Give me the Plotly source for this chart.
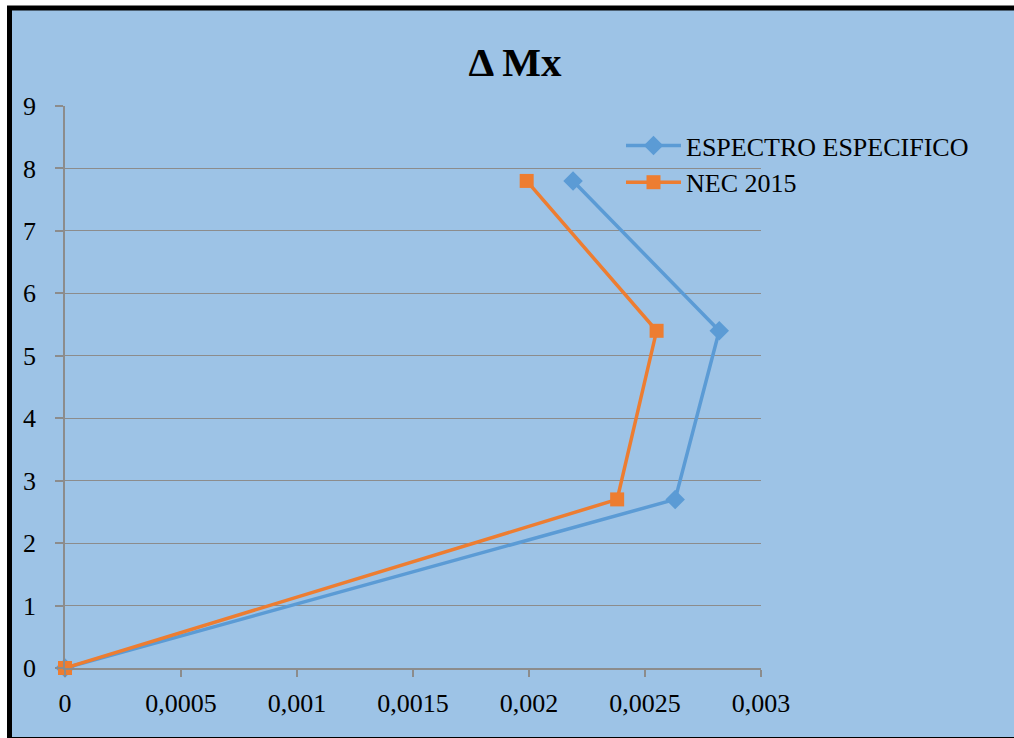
import plotly.graph_objects as go

# Data
heights = [0, 2.7, 5.4, 7.8]
espectro_especifico = [0, 0.00263, 0.00282, 0.00219]
nec_2015 = [0, 0.00238, 0.00255, 0.00199]
x_ticks = [0, 0.0005, 0.001, 0.0015, 0.002, 0.0025, 0.003]
x_tick_labels = ["0", "0,0005", "0,001", "0,0015", "0,002", "0,0025", "0,003"]
y_ticks = [0, 1, 2, 3, 4, 5, 6, 7, 8, 9]

W, H = 1014, 738
PL, PR, PT, PB = 65, 761, 106, 668          # plot area in page pixels
L, R, T, B = PL, W - PR, PT, H - PB
PW, PH = PR - PL, PB - PT

def px_x(p):
    return (p - PL) / PW

def px_y(p):
    return (PB - p) / PH

FONT = "Liberation Serif, Times New Roman, serif"
BLUE = "#5B9BD5"
ORANGE = "#ED7D31"
BG = "#9DC3E6"
GRID = "#8C8C8C"

fig = go.Figure()
fig.add_trace(go.Scatter(
    x=espectro_especifico, y=heights, mode="lines+markers",
    name="ESPECTRO ESPECIFICO", cliponaxis=False,
    line=dict(color=BLUE, width=3.5),
    marker=dict(symbol="diamond", size=15, color=BLUE),
))
fig.add_trace(go.Scatter(
    x=nec_2015, y=heights, mode="lines+markers",
    name="NEC 2015", cliponaxis=False,
    line=dict(color=ORANGE, width=3.5),
    marker=dict(symbol="square", size=14, color=ORANGE),
))

fig.update_layout(
    width=W, height=H,
    margin=dict(l=L, r=R, t=T, b=B),
    paper_bgcolor="white",
    plot_bgcolor="rgba(0,0,0,0)",
    font=dict(family=FONT, size=26, color="black"),
    title=dict(text="<b>Δ Mx</b>", x=515 / W, xanchor="center",
               y=1 - 62 / H, yanchor="middle",
               font=dict(family=FONT, size=41, color="black")),
    showlegend=True,
    legend=dict(x=px_x(621), y=px_y(122), xanchor="left", yanchor="top",
                bgcolor="rgba(0,0,0,0)", borderwidth=0,
                font=dict(family=FONT, size=26, color="black"),
                itemwidth=55, tracegroupgap=0),
    shapes=[
        dict(type="rect", xref="paper", yref="paper", layer="below",
             x0=px_x(9.5), x1=px_x(1030), y0=px_y(8), y1=px_y(739.5),
             fillcolor=BG, line=dict(color="black", width=5)),
    ],
)

fig.update_xaxes(
    range=[0, 0.003], tickvals=x_ticks, ticktext=x_tick_labels,
    showgrid=False, zeroline=False,
    showline=True, linecolor=GRID, linewidth=1.5,
    ticks="outside", ticklen=7, tickcolor=GRID, tickwidth=1.5,
    tickfont=dict(family=FONT, size=26, color="black"),
    ticklabelstandoff=4,
)
fig.update_yaxes(
    range=[0, 9], tickvals=y_ticks,
    showgrid=True, gridcolor=GRID, gridwidth=1.2,
    zeroline=False,
    showline=True, linecolor=GRID, linewidth=1.5,
    ticks="outside", ticklen=8, tickcolor=GRID, tickwidth=1.5,
    tickfont=dict(family=FONT, size=26, color="black"),
    ticklabelstandoff=14,
)

fig.write_html(
    "out.html",
    config={"displayModeBar": False},
    post_script="document.body.style.margin='0';document.body.style.overflow='hidden';",
)
